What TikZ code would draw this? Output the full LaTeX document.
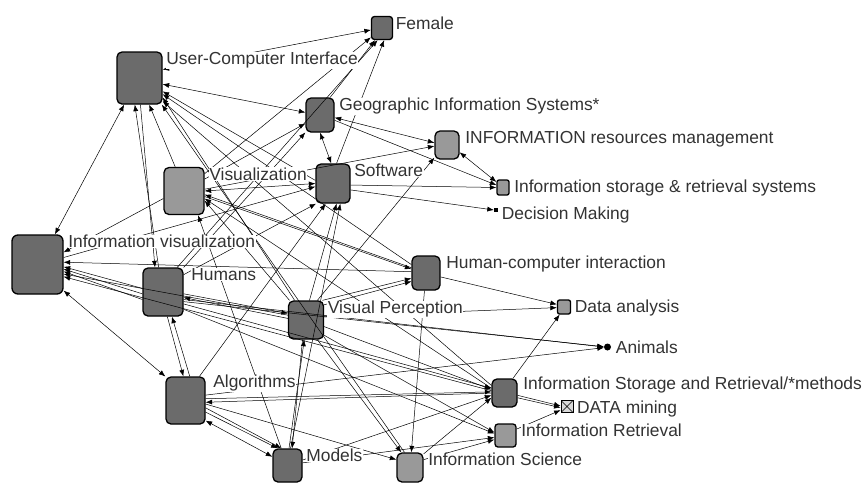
\documentclass[tikz,border=0pt]{standalone}
\usepackage{fontspec}
\setmainfont{Liberation Sans}
\usetikzlibrary{arrows.meta}

\begin{document}
\begin{tikzpicture}
        [%%%%%%%%%%%%%%%%%%%%%%%%%%%%%%
        x=1pt, y=-1pt,
        box/.style={rectangle, rounded corners=5pt, draw=black, line width=1.3pt, fill=black!58, inner sep=0pt},
        lightbox/.style={box, fill=black!40},
        lbl/.style={anchor=north west, inner sep=0.5pt, fill=white, text=black!80, font=\fontsize{17.4}{20}\selectfont},
        link/.style={line width=0.5pt, -{Latex[length=6.5pt,width=5pt]}},
        both/.style={line width=0.5pt, {Latex[length=6.5pt,width=5pt]}-{Latex[length=6.5pt,width=5pt]}},
        ]%%%%%%%%%%%%%%%%%%%%%%%%%%%%%%
        \fill[white] (0,0) rectangle (864,483);
        \useasboundingbox (0,0) rectangle (864,483);
        % Nodes of the network
        \node[box, minimum width=45pt, minimum height=52pt] (uci) at (139.5,78) {};
        \node[box, minimum width=21pt, minimum height=23pt, rounded corners=3pt] (female) at (382,28) {};
        \node[box, minimum width=28pt, minimum height=34pt] (gis) at (320,115) {};
        \node[lightbox, minimum width=24pt, minimum height=28pt] (irm) at (447,145) {};
        \node[lightbox, minimum width=12pt, minimum height=15pt, rounded corners=2pt] (isrs) at (503,187.5) {};
        \node[fill=black, inner sep=0pt, minimum size=4pt] (decision) at (496,210) {};
        \node[box, minimum width=34pt, minimum height=39pt] (software) at (333,183.5) {};
        \node[lightbox, minimum width=40pt, minimum height=47pt] (visualization) at (184,191) {};
        \node[box, minimum width=51pt, minimum height=59pt, rounded corners=6pt] (infovis) at (37.5,264.5) {};
        \node[box, minimum width=40pt, minimum height=48pt] (humans) at (163,292) {};
        \node[box, minimum width=28pt, minimum height=34pt] (hci) at (426,273) {};
        \node[box, minimum width=35pt, minimum height=38pt] (vp) at (306,320) {};
        \node[lightbox, minimum width=13pt, minimum height=14pt, rounded corners=2pt] (dataanalysis) at (564,307) {};
        \node[circle, fill=black, inner sep=0pt, minimum size=7pt] (animals) at (607.5,347) {};
        \node[box, minimum width=39pt, minimum height=47pt] (algorithms) at (185.5,400.5) {};
        \node[box, minimum width=25pt, minimum height=28pt] (isrm) at (504.5,393) {};
        \node[draw=black, line width=0.8pt, fill=black!15, inner sep=0pt, minimum size=12pt,
              path picture={\draw[line width=0.6pt] (path picture bounding box.north west) -- (path picture bounding box.south east)
                (path picture bounding box.north east) -- (path picture bounding box.south west);}] (datamining) at (567,406.5) {};
        \node[lightbox, minimum width=21pt, minimum height=23pt, rounded corners=3pt] (ir) at (505.5,435.5) {};
        \node[box, minimum width=29pt, minimum height=33pt] (models) at (287.5,465.5) {};
        \node[lightbox, minimum width=26pt, minimum height=29pt] (infosci) at (410,467.5) {};
        % One-way links
        \foreach \a/\b in {humans.100/uci.-100, uci.-88/humans.108, visualization.110/uci.-70,
            software.170/uci.-30, hci.150/uci.-35, vp.120/uci.-40, isrm.150/uci.-45, infosci.110/uci.-50,
            gis.60/female.-120, humans.60/female.-110, software.80/female.-80, visualization.40/female.-140,
            gis.-20/isrs.160, humans.50/gis.-130, visualization.30/gis.-150,
            visualization.5/irm.185, vp.60/irm.-135,
            software.-5/isrs.180, software.-20/decision.180, humans.40/software.-130, algorithms.60/software.-110,
            vp.80/software.-80, models.80/software.-70, infovis.15/software.190,
            hci.160/visualization.-10, visualization.-15/hci.165, vp.130/visualization.-25,
            isrm.160/visualization.-20, models.110/visualization.-60, visualization.200/infovis.25,
            humans.170/infovis.-5, humans.185/infovis.-10, humans.200/infovis.-15, vp.165/infovis.-20,
            hci.175/infovis.5, isrm.170/infovis.-25,
            humans.-5/vp.160, vp.175/humans.-15,
            humans.-80/algorithms.95, algorithms.80/humans.-70,
            humans.-20/animals.180, humans.-25/animals.175, humans.-30/isrm.160, humans.-40/ir.170,
            vp.-100/models.75, models.85/vp.-95, vp.10/dataanalysis.185, vp.-20/isrm.165,
            vp.-40/ir.165, vp.-60/infosci.120, vp.40/hci.-150, vp.50/hci.-160,
            hci.-15/dataanalysis.160, hci.-95/infosci.85,
            isrm.180/algorithms.-5, algorithms.5/isrm.175, algorithms.-30/models.120,
            algorithms.-20/models.110, algorithms.-10/infosci.150, algorithms.15/animals.190,
            isrm.-10/datamining.175, isrm.-20/datamining.190, isrm.60/dataanalysis.-120,
            infosci.45/isrm.-160, models.20/isrm.-170, models.10/ir.-170, infosci.30/ir.-160,
            ir.30/datamining.-150}
          \draw[link] (\a) -- (\b);
        % Two-way links
        \foreach \a/\b in {uci.20/female.190, uci.-15/gis.170, uci.-120/infovis.60,
            gis.-90/software.95, gis.-10/irm.170, irm.-30/isrs.140,
            visualization.0/software.180, infovis.-45/algorithms.130, algorithms.-45/models.150}
          \draw[both] (\a) -- (\b);
        % Text 
        \node[lbl] (uci-l) at ([xshift=3pt]uci.north east) {User-Computer Interface};
        \node[lbl] (female-l) at ([xshift=2pt]female.north east) {Female};
        \node[lbl] (gis-l) at ([xshift=4pt]gis.north east) {Geographic Information Systems*};
        \node[lbl] (irm-l) at ([xshift=5pt]irm.north east) {INFORMATION resources management};
        \node[lbl] (isrs-l) at ([xshift=4pt]isrs.north east) {Information storage \& retrieval systems};
        \node[lbl] (decision-l) at ([xshift=3pt,yshift=2pt]decision.north east) {Decision Making};
        \node[lbl] (software-l) at ([xshift=3pt]software.north east) {Software};
        \node[lbl] (visualization-l) at ([xshift=4pt]visualization.north east) {Visualization};
        \node[lbl] (infovis-l) at ([xshift=4pt]infovis.north east) {Information visualization};
        \node[lbl] (humans-l) at ([xshift=7pt]humans.north east) {Humans};
        \node[lbl] (hci-l) at ([xshift=5pt]hci.north east) {Human-computer interaction};
        \node[lbl] (vp-l) at ([xshift=3pt]vp.north east) {Visual Perception};
        \node[lbl] (dataanalysis-l) at ([xshift=3pt]dataanalysis.north east) {Data analysis};
        \node[lbl] (animals-l) at ([xshift=4pt,yshift=7pt]animals.east) {Animals};
        \node[lbl] (algorithms-l) at ([xshift=7pt,yshift=2pt]algorithms.north east) {Algorithms};
        \node[lbl] (isrm-l) at ([xshift=5pt,yshift=2pt]isrm.north east) {Information Storage and Retrieval/*methods};
        \node[lbl] (datamining-l) at ([xshift=3pt]datamining.north east) {DATA mining};
        \node[lbl] (ir-l) at ([xshift=4pt]ir.north east) {Information Retrieval};
        \node[lbl] (models-l) at ([xshift=3pt]models.north east) {Models};
        \node[lbl] (infosci-l) at ([xshift=4pt]infosci.north east) {Information Science};
      \end{tikzpicture}
\end{document}
